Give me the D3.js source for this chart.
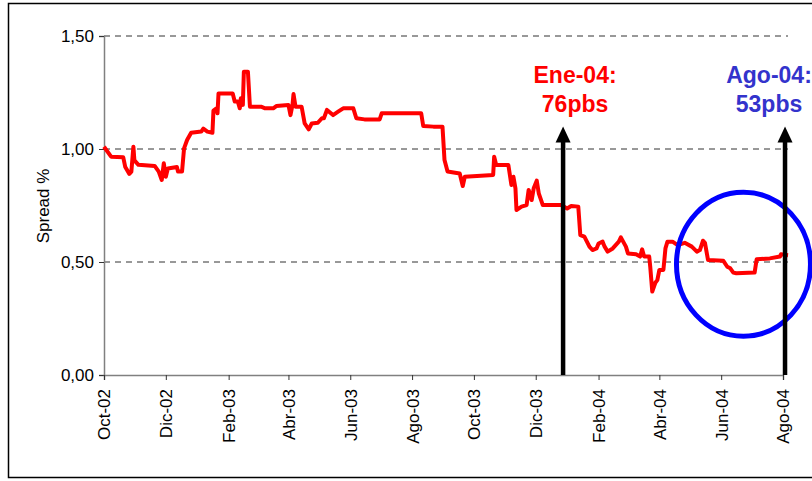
<!DOCTYPE html>
<html>
<head>
<meta charset="utf-8">
<script src="https://cdn.jsdelivr.net/npm/d3@7"></script>
<style>
  body { margin: 0; background: #fff; }
  svg { display: block; font-family: "Liberation Sans", Arial, sans-serif; }
</style>
</head>
<body>
<svg id="chart" width="812" height="481"></svg>
<script>
// spread series (date, value %)
var dates = ["2002-10-01","2002-10-08","2002-10-20","2002-10-22","2002-10-26","2002-10-28","2002-10-30","2002-10-31",
  "2002-11-04","2002-11-20","2002-11-24","2002-11-27","2002-11-29","2002-12-01","2002-12-03","2002-12-12","2002-12-13",
  "2002-12-17","2002-12-19","2002-12-22","2002-12-26","2003-01-05","2003-01-07","2003-01-11","2003-01-16","2003-01-17",
  "2003-01-20","2003-01-21","2003-01-22","2003-02-05","2003-02-07","2003-02-10","2003-02-12","2003-02-13","2003-02-15",
  "2003-02-16","2003-02-20","2003-02-22","2003-03-05","2003-03-09","2003-03-17","2003-03-20","2003-04-01","2003-04-03",
  "2003-04-05","2003-04-06","2003-04-08","2003-04-14","2003-04-17","2003-04-21","2003-04-24","2003-04-30","2003-05-04",
  "2003-05-06","2003-05-09","2003-05-15","2003-05-20","2003-05-25","2003-06-04","2003-06-07","2003-06-15","2003-06-30",
  "2003-07-02","2003-08-10","2003-08-12","2003-08-22","2003-08-31","2003-09-02","2003-09-05","2003-09-17","2003-09-20",
  "2003-09-22","2003-10-20","2003-10-21","2003-10-23","2003-11-04","2003-11-07","2003-11-09","2003-11-11","2003-11-12",
  "2003-11-17","2003-11-22","2003-11-24","2003-11-27","2003-11-29","2003-12-02","2003-12-04","2003-12-08","2003-12-26",
  "2004-01-01","2004-01-05","2004-01-12","2004-01-14","2004-01-18","2004-01-23","2004-01-26","2004-01-30","2004-02-01",
  "2004-02-05","2004-02-07","2004-02-10","2004-02-15","2004-02-21","2004-02-23","2004-02-28","2004-03-01","2004-03-09",
  "2004-03-13","2004-03-15","2004-03-17","2004-03-22","2004-03-23","2004-03-25","2004-03-28","2004-03-30","2004-04-01",
  "2004-04-05","2004-04-07","2004-04-09","2004-04-14","2004-04-19","2004-04-26","2004-05-03","2004-05-08","2004-05-11",
  "2004-05-14","2004-05-16","2004-05-19","2004-06-03","2004-06-07","2004-06-10","2004-06-13","2004-06-16","2004-07-04",
  "2004-07-06","2004-07-19","2004-07-29","2004-07-30","2004-08-06"];
var spread = [1.01,0.966,0.963,0.92,0.89,0.90,1.01,0.95,
  0.93,0.925,0.90,0.863,0.937,0.877,0.914,0.92,0.90,
  0.90,1.003,1.04,1.072,1.077,1.09,1.077,1.072,1.17,
  1.18,1.158,1.246,1.246,1.21,1.21,1.18,1.224,1.195,
  1.342,1.342,1.187,1.187,1.18,1.18,1.19,1.195,1.15,
  1.195,1.243,1.187,1.187,1.113,1.087,1.113,1.116,1.136,
  1.136,1.173,1.15,1.165,1.18,1.18,1.136,1.131,1.131,
  1.158,1.158,1.102,1.099,1.099,0.951,0.90,0.892,0.836,
  0.877,0.885,0.966,0.929,0.929,0.841,0.877,0.826,0.73,
  0.745,0.752,0.819,0.774,0.826,0.86,0.804,0.752,0.752,
  0.737,0.748,0.745,0.619,0.612,0.568,0.553,0.56,0.582,
  0.59,0.568,0.546,0.56,0.59,0.609,0.568,0.538,0.534,
  0.524,0.556,0.524,0.524,0.479,0.369,0.408,0.42,0.465,
  0.465,0.56,0.59,0.59,0.575,0.585,0.568,0.546,0.553,
  0.594,0.585,0.509,0.506,0.479,0.472,0.453,0.45,0.453,
  0.512,0.516,0.524,0.534,0.53];

var yTicks = [0, 0.5, 1, 1.5];
var monthNames = ["Ene","Feb","Mar","Abr","May","Jun","Jul","Ago","Sep","Oct","Nov","Dic"];
var xTickDates = ["2002-10-01","2002-12-01","2003-02-01","2003-04-01","2003-06-01","2003-08-01",
  "2003-10-01","2003-12-01","2004-02-01","2004-04-01","2004-06-01","2004-08-01"];

// annotations
var noteLabels = [["Ene-04:","76pbs"],["Ago-04:","53pbs"]];
var noteDates = ["2003-12-28","2004-08-03"];
var noteColors = ["#ff0000","#3333cc"];

var parse = d3.timeParse("%Y-%m-%d");
var data = dates.map(function(d,i){ return {date: parse(d), value: spread[i]}; });

var svg = d3.select("#chart");

// outer frame
svg.append("rect")
  .attr("x",8.5).attr("y",3.5)
  .attr("width",830).attr("height",474)
  .attr("fill","none").attr("stroke","#000").attr("stroke-width",1.5);

var x = d3.scaleUtc()
  .domain([parse("2002-10-01"), parse("2004-08-01")])
  .range([104, 783]);
var y = d3.scaleLinear().domain([0,1.5]).range([375,36]);

// dashed gridlines
svg.append("g").selectAll("line")
  .data(yTicks.filter(function(d){return d>0;}))
  .enter().append("line")
  .attr("x1",104).attr("x2",788)
  .attr("y1",function(d){return y(d);}).attr("y2",function(d){return y(d);})
  .attr("stroke","#333").attr("stroke-width",1)
  .attr("stroke-dasharray","6,5");

var commaFmt = function(d){ return d3.format(".2f")(d).replace(".",","); };

var yAxis = svg.append("g")
  .attr("transform","translate(104,0)")
  .call(d3.axisLeft(y).tickValues(yTicks).tickSize(5).tickFormat(commaFmt));

var xAxis = svg.append("g")
  .attr("transform","translate(0,375)")
  .call(d3.axisBottom(x).tickValues(xTickDates.map(parse)).tickSize(5)
    .tickFormat(function(d){ return monthNames[d.getUTCMonth()] + "-" + d3.utcFormat("%y")(d); }));

[yAxis, xAxis].forEach(function(a){
  a.select(".domain").attr("stroke","#808080").attr("stroke-width",1.5);
  a.selectAll(".tick line").attr("stroke","#333");
  a.selectAll("text").attr("font-size",17).attr("fill","#000")
    .attr("font-family","'Liberation Sans', Arial, sans-serif");
});
yAxis.selectAll("text").attr("x",-10);
xAxis.selectAll("text")
  .attr("transform","rotate(-90)")
  .attr("text-anchor","end")
  .attr("x",-14).attr("y",0).attr("dy","0.35em");

// y label
svg.append("text")
  .attr("transform","translate(49,206) rotate(-90)")
  .attr("text-anchor","middle")
  .attr("font-size",17)
  .text("Spread %");

// series line
var line = d3.line()
  .x(function(d){return x(d.date);})
  .y(function(d){return y(d.value);});

svg.append("path")
  .datum(data)
  .attr("d",line)
  .attr("fill","none")
  .attr("stroke","#ff0000")
  .attr("stroke-width",4)
  .attr("stroke-linejoin","round");

// circle around recent period
svg.append("ellipse")
  .attr("cx",x(parse("2004-06-23"))).attr("cy",y(0.49))
  .attr("rx",67).attr("ry",72)
  .attr("fill","none").attr("stroke","#0000ff").attr("stroke-width",5);

// arrows + labels
noteDates.forEach(function(d,i){
  var ax = x(parse(d));
  var top = y(1.10);
  svg.append("line")
    .attr("x1",ax).attr("x2",ax)
    .attr("y1",y(0)).attr("y2",top+14)
    .attr("stroke","#000").attr("stroke-width",4.5);
  svg.append("path")
    .attr("d","M"+ax+","+top+" L"+(ax+7.5)+","+(top+16)+" L"+(ax-7.5)+","+(top+16)+" Z")
    .attr("fill","#000");
  var cx = i===0 ? ax+12 : ax-16;
  svg.append("text")
    .attr("x",cx).attr("y",83)
    .attr("text-anchor","middle")
    .attr("font-size",23).attr("font-weight","bold")
    .attr("fill",noteColors[i])
    .text(noteLabels[i][0]);
  svg.append("text")
    .attr("x",cx).attr("y",112)
    .attr("text-anchor","middle")
    .attr("font-size",23).attr("font-weight","bold")
    .attr("fill",noteColors[i])
    .text(noteLabels[i][1]);
});
</script>
</body>
</html>
